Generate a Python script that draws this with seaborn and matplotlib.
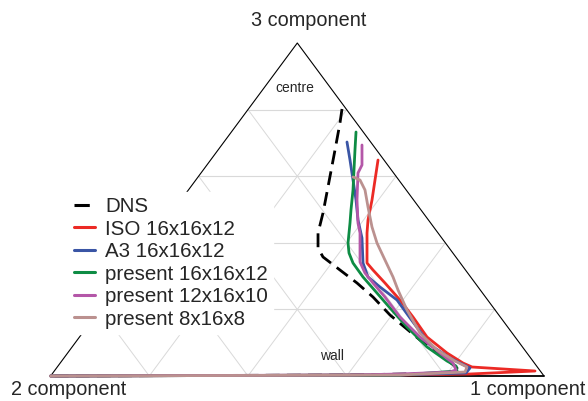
import numpy as np
import pandas as pd
import matplotlib
matplotlib.use("Agg")
import matplotlib.pyplot as plt
import seaborn as sns

sns.set_style("white")
plt.rcParams['font.family'] = ['Liberation Sans', 'DejaVu Sans']

# Coordinates in the triangle plane: x from 2-component (0) to 1-component (1),
# y from bottom edge (0) to 3-component vertex (1)
dns_x = [0.5906, 0.5865, 0.5764, 0.5622, 0.5521, 0.5420, 0.5420, 0.5521, 0.5865, 0.6210,
         0.6534, 0.6879, 0.7487, 0.7994, 0.8237, 0.8196, 0.6068, 0.0]
dns_y = [0.8018, 0.7598, 0.6787, 0.5676, 0.4895, 0.4294, 0.3844, 0.3574, 0.3183, 0.2793,
         0.2372, 0.1832, 0.1081, 0.0541, 0.0240, 0.0090, 0.0030, 0.0]

iso_x = [0.6636, 0.6575, 0.6514, 0.6433, 0.6413, 0.6413, 0.6534, 0.6777, 0.7081, 0.7345,
         0.7629, 0.8034, 0.8358, 0.8541, 0.9818, 0.8500, 0.7081, 0.0]
iso_y = [0.6486, 0.5886, 0.5285, 0.4685, 0.4294, 0.3393, 0.3183, 0.2793, 0.2282, 0.1772,
         0.1171, 0.0691, 0.0390, 0.0270, 0.0150, 0.0060, 0.0030, 0.0]

a3_x = [0.6007, 0.6068, 0.6129, 0.6190, 0.6230, 0.6311, 0.6332, 0.6433, 0.6676, 0.7021,
        0.7284, 0.7690, 0.8095, 0.8338, 0.8500, 0.8419, 0.7081, 0.0]
a3_y = [0.7027, 0.6486, 0.5886, 0.5285, 0.4685, 0.4144, 0.3393, 0.2973, 0.2673, 0.2282,
        0.1742, 0.0931, 0.0541, 0.0360, 0.0240, 0.0090, 0.0030, 0.0]

p16_x = [0.6190, 0.6169, 0.6149, 0.6129, 0.6088, 0.6068, 0.6028, 0.6048, 0.6129, 0.6332,
         0.6615, 0.6879, 0.7223, 0.7629, 0.8034, 0.8217, 0.8237, 0.7081, 0.0]
p16_y = [0.7327, 0.6787, 0.6186, 0.5586, 0.4985, 0.4595, 0.3994, 0.3694, 0.3393, 0.2973,
         0.2492, 0.2042, 0.1471, 0.0871, 0.0450, 0.0300, 0.0150, 0.0030, 0.0]

p12_x = [0.6311, 0.6311, 0.6230, 0.6210, 0.6230, 0.6271, 0.6271, 0.6372, 0.6534, 0.6777,
         0.7081, 0.7487, 0.7892, 0.8156, 0.8217, 0.8095, 0.7081, 0.6068, 0.0]
p12_y = [0.6937, 0.6336, 0.6096, 0.5285, 0.4595, 0.4294, 0.3423, 0.3093, 0.2793, 0.2372,
         0.1772, 0.1171, 0.0691, 0.0390, 0.0180, 0.0120, 0.0060, 0.0030, 0.0]

p8_x = [0.6129, 0.6271, 0.6372, 0.6433, 0.6514, 0.6615, 0.6777, 0.6940, 0.7041, 0.7223,
        0.7487, 0.7831, 0.8196, 0.8439, 0.8399, 0.7081, 0.0]
p8_y = [0.5976, 0.5886, 0.5586, 0.5075, 0.4474, 0.3994, 0.3483, 0.2973, 0.2583, 0.1982,
        0.1291, 0.0781, 0.0450, 0.0270, 0.0120, 0.0030, 0.0]

labels = ["DNS", "ISO 16x16x12", "A3 16x16x12", "present 16x16x12",
          "present 12x16x10", "present 8x16x8"]
colors = ["black", "#ec2a25", "#3a55a5", "#0e8c44", "#b457a8", "#bb918f"]
series = [(dns_x, dns_y), (iso_x, iso_y), (a3_x, a3_y), (p16_x, p16_y),
          (p12_x, p12_y), (p8_x, p8_y)]

fig = plt.figure(figsize=(5.88, 4.01), dpi=100)
ax = fig.add_axes([50.6 / 588, 25 / 401, 493.4 / 588, 333 / 401])
ax.set_xlim(0, 1)
ax.set_ylim(0, 1)
ax.axis("off")

# triangular grid
gc = "#d9d9d9"
for k in range(1, 5):
    t = k / 5
    ax.plot([t / 2, 1 - t / 2], [t, t], color=gc, lw=0.8, zorder=1, clip_on=False)
    ax.plot([t, t + 0.5 * (1 - t)], [0, 1 - t], color=gc, lw=0.7, zorder=1, clip_on=False)
    ax.plot([t, t / 2], [0, t], color=gc, lw=0.7, zorder=1, clip_on=False)

# triangle outline
ax.plot([0, 0.5, 1], [0, 1, 0], color="black", lw=0.8, zorder=2, clip_on=False)
ax.plot([0, 1], [0, 0], color="black", lw=1.3, zorder=2, clip_on=False)

for (xs, ys), lab, col in zip(series, labels, colors):
    df = pd.DataFrame({"x": xs, "y": ys})
    if lab == "DNS":
        sns.lineplot(data=df, x="x", y="y", sort=False, estimator=None, color=col,
                     lw=2.0, dashes=(5, 2.6), label=lab, ax=ax, zorder=3)
    else:
        sns.lineplot(data=df, x="x", y="y", sort=False, estimator=None, color=col,
                     lw=2.0, label=lab, ax=ax, zorder=4)
for ln in ax.lines:
    ln.set_clip_on(False)
ax.set_xlim(0, 1)
ax.set_ylim(0, 1)
ax.axis("off")

leg = ax.legend(loc="upper left", bbox_to_anchor=(69 / 588, 1 - 192 / 401),
                bbox_transform=fig.transFigure, fontsize=14.8, frameon=True,
                fancybox=False, edgecolor="white", facecolor="white", framealpha=1,
                handlelength=1.0, handletextpad=0.5, labelspacing=0.17,
                borderpad=0.25, borderaxespad=0)
leg.set_zorder(10)
for h in leg.get_lines():
    h.set_linewidth(2.2)

ax.text(0.5237, 1.069, "3 component", ha="center", va="center", fontsize=14.3)
ax.text(0.036, -0.042, "2 component", ha="center", va="center", fontsize=14.3)
ax.text(0.966, -0.042, "1 component", ha="center", va="center", fontsize=14.3)
ax.text(0.4954, 0.865, "centre", ha="center", va="center", fontsize=10)
ax.text(0.570, 0.060, "wall", ha="center", va="center", fontsize=10)

fig.savefig("out.png", dpi=100)
